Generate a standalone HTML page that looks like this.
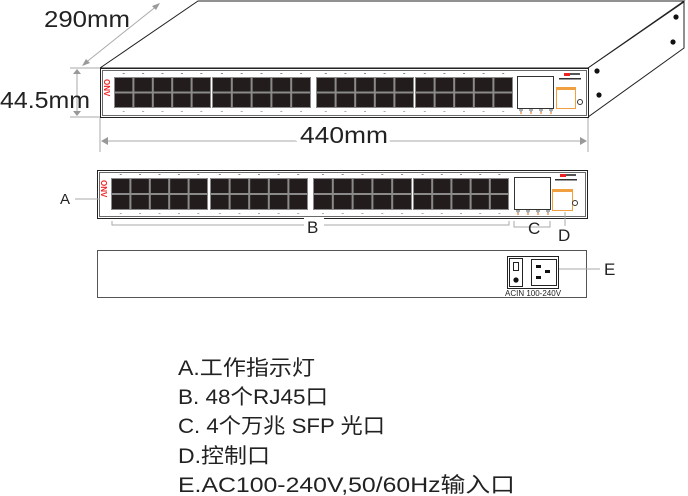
<!DOCTYPE html><html><head><meta charset="utf-8"><style>
html,body{margin:0;padding:0;background:#fff;}
svg{display:block;}
.t{font-family:"Liberation Sans","Noto Sans CJK SC",sans-serif;fill:#222;}
</style></head><body>
<svg id="s" width="688" height="496" viewBox="0 0 688 496" xmlns="http://www.w3.org/2000/svg">
<polygon points="100,68 198,1 684,1 588,68" fill="#fff" stroke="#222" stroke-width="1"/>
<polygon points="588,68 684,2 684,48 588,117" fill="#fff" stroke="#222" stroke-width="1"/>
<circle cx="597" cy="71" r="2.6" fill="#111"/><circle cx="599" cy="95" r="2.6" fill="#111"/>
<circle cx="676" cy="17" r="2.6" fill="#111"/><circle cx="673" cy="42" r="2.6" fill="#111"/>
<text class="t" x="44" y="27" font-size="23" textLength="86" lengthAdjust="spacingAndGlyphs" fill="#222">290mm</text>
<line x1="84" y1="64" x2="158" y2="5" stroke="#aaa" stroke-width="1"/>
<polygon points="160,3 152,6 156,10" fill="#999"/><polygon points="82,66 90,63 86,59" fill="#999"/>
<line x1="70" y1="68" x2="100" y2="68" stroke="#aaa"/><line x1="70" y1="117" x2="100" y2="117" stroke="#aaa"/>
<line x1="77" y1="70" x2="77" y2="115" stroke="#aaa"/>
<polygon points="77,69 73,74 81,74" fill="#999"/><polygon points="77,116 73,111 81,111" fill="#999"/>
<text class="t" x="0" y="108" font-size="23" textLength="90" lengthAdjust="spacingAndGlyphs">44.5mm</text>
<line x1="100" y1="118" x2="100" y2="152" stroke="#aaa"/><line x1="588" y1="118" x2="588" y2="152" stroke="#aaa"/>
<line x1="103" y1="141" x2="585" y2="141" stroke="#aaa"/>
<polygon points="101,141 108,137 108,145" fill="#999"/><polygon points="587,141 580,137 580,145" fill="#999"/>
<text class="t" x="300" y="143" font-size="23" textLength="88" lengthAdjust="spacingAndGlyphs" fill="#222" style="paint-order:stroke" stroke="#fff" stroke-width="6">440mm</text>
<g id="top"></g>
<g id="mid"></g>
<text class="t" x="60" y="204" font-size="15" fill="#333">A</text>
<line x1="75" y1="199" x2="100" y2="199" stroke="#aaa"/>
<polyline points="112,221 112,225 509,225 509,221" fill="none" stroke="#aaa"/>
<rect x="304" y="218" width="20" height="14" fill="#fff"/>
<text class="t" x="307" y="233" font-size="17" fill="#333">B</text>
<polyline points="514,221 514,227 550,227 550,221" fill="none" stroke="#aaa"/>
<text class="t" x="528" y="234" font-size="17" fill="#333">C</text>
<line x1="565" y1="212" x2="565" y2="226" stroke="#aaa"/>
<text class="t" x="558" y="241" font-size="17" fill="#333">D</text>
<rect x="97.5" y="250.5" width="489" height="47" fill="#fff" stroke="#555"/>
<rect x="507.5" y="256.5" width="51" height="32" fill="#fff" stroke="#222"/>
<rect x="509.5" y="258.5" width="13" height="28" fill="#fff" stroke="#222"/>
<rect x="513.5" y="262.5" width="5" height="8" fill="#fff" stroke="#222"/>
<circle cx="516" cy="280" r="2.6" fill="#111"/>
<rect x="531.5" y="259.5" width="25" height="26" fill="#fff" stroke="#222"/>
<rect x="536" y="265" width="5" height="3" fill="#111"/><rect x="545" y="270" width="5" height="3" fill="#111"/><rect x="536" y="276" width="5" height="3" fill="#111"/>
<text class="t" x="505" y="296" font-size="8" fill="#333">ACIN 100-240V</text>
<line x1="559" y1="269" x2="600" y2="269" stroke="#aaa"/>
<text class="t" x="604" y="275" font-size="17" fill="#333">E</text>
<g class="t" font-size="21" fill="#222">
<text x="178" y="375" textLength="137" lengthAdjust="spacingAndGlyphs">A.工作指示灯</text>
<text x="178" y="404" textLength="150" lengthAdjust="spacingAndGlyphs">B. 48个RJ45口</text>
<text x="178" y="433" textLength="207" lengthAdjust="spacingAndGlyphs">C. 4个万兆 SFP 光口</text>
<text x="178" y="463" textLength="92" lengthAdjust="spacingAndGlyphs">D.控制口</text>
<text x="178" y="492" textLength="337" lengthAdjust="spacingAndGlyphs">E.AC100-240V,50/60Hz输入口</text>
</g>
</svg>
<script>
function sw(g,x0,x1,y0,y1,groups,ry0,ry1,sfp,con,circ){
 var h='';
 h+='<rect x="'+(x0+.5)+'" y="'+(y0+.5)+'" width="'+(x1-x0-1)+'" height="'+(y1-y0-1)+'" fill="#fff" stroke="#222" stroke-width="1"/>';
 h+='<rect x="'+(x0+2.5)+'" y="'+(y0+2.5)+'" width="'+(x1-x0-5)+'" height="'+(y1-y0-5)+'" fill="none" stroke="#444" stroke-width="0.8"/>';
 h+='<text x="'+(x0+4)+'" y="'+(ry0+2)+'" font-size="8" fill="#e22" font-family="Liberation Sans" font-weight="bold" transform="rotate(90 '+(x0+4)+' '+(ry0+2)+')">ONV</text>';
 var rh=(ry1-ry0)/2;
 groups.forEach(function(gr){
  var a=gr[0],b=gr[1],w=(b-a)/5;
  h+='<rect x="'+a+'" y="'+ry0+'" width="'+(b-a)+'" height="'+(ry1-ry0)+'" fill="#8a8a8a"/>';
  for(var c=0;c<5;c++)for(var r=0;r<2;r++){
   h+='<rect x="'+(a+c*w+1)+'" y="'+(ry0+r*rh+1)+'" width="'+(w-2)+'" height="'+(rh-2)+'" fill="#231c1c"/>';
  }
  for(var c=0;c<5;c++){
   h+='<rect x="'+(a+c*w+w/2-1)+'" y="'+(ry0-4)+'" width="2" height="1" fill="#888"/>';
   h+='<rect x="'+(a+c*w+w/2-1)+'" y="'+(ry1+3)+'" width="2" height="1" fill="#aaa"/>';
  }
 });
 h+='<rect x="'+(sfp[0]+.5)+'" y="'+(sfp[1]+.5)+'" width="'+sfp[2]+'" height="'+sfp[3]+'" fill="#fff" stroke="#333"/>';
 h+='<rect x="'+(con[0]+.5)+'" y="'+(con[1]+.5)+'" width="'+con[2]+'" height="'+con[3]+'" fill="#fff" stroke="#f0a040"/>';
 h+='<rect x="'+(con[0])+'" y="'+(con[1])+'" width="'+(con[2]+1)+'" height="3" fill="#f0a040"/>';
 h+='<circle cx="'+circ[0]+'" cy="'+circ[1]+'" r="2.5" fill="#fff" stroke="#333"/>';
 h+='<rect x="'+(con[0]+8)+'" y="'+(sfp[1]-3)+'" width="6" height="3" fill="#e22"/><rect x="'+(con[0]+14)+'" y="'+(sfp[1]-3)+'" width="10" height="2" fill="#555"/>';
 h+='<rect x="'+(con[0]+3)+'" y="'+(sfp[1]+2)+'" width="22" height="1.5" fill="#333"/>';
 for(var i=0;i<4;i++){h+='<circle cx="'+(sfp[0]+4+i*10)+'" cy="'+(sfp[1]+sfp[3]+2)+'" r="1.2" fill="none" stroke="#333" stroke-width=".6"/><rect x="'+(sfp[0]+3.5+i*10)+'" y="'+(sfp[1]+sfp[3]+4)+'" width="1" height="2" fill="#e60"/>';}
 document.getElementById(g).innerHTML=h;
}
sw('top',100,589,68,118,[[114,211],[212,311],[316,414],[415,513]],77,108,[517,76,36,32],[556,87,19,21],[580,102]);
sw('mid',97,588,170,219,[[111,208],[210,308],[313,412],[413,509]],178,210,[514,177,36,32],[552,189,20,21],[575,203]);
</script>
</body></html>
